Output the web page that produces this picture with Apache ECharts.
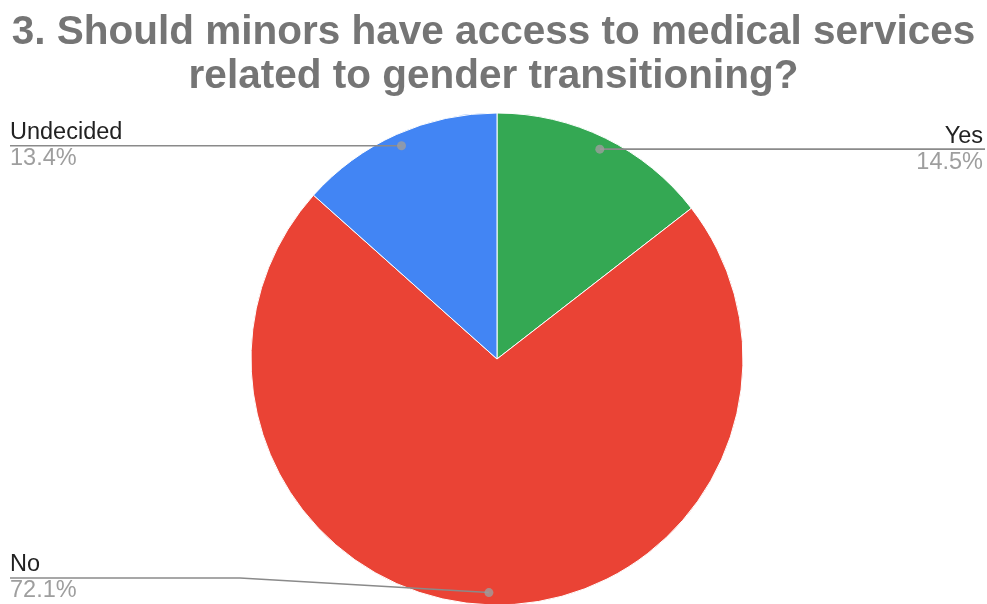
<!DOCTYPE html>
<html><head><meta charset="utf-8">
<script src="https://cdn.jsdelivr.net/npm/echarts@6/dist/echarts.min.js"></script>
<style>html,body{margin:0;padding:0;background:#fff}#c{width:987px;height:604px}</style>
</head><body><div id="c"></div>
<script>
const titleText = '3. Should minors have access to medical services\nrelated to gender transitioning?';
const categories = ['Yes', 'No', 'Undecided'];
const values = [14.5, 72.1, 13.4];
const colors = ['#34a853', '#ea4335', '#4285f4'];

const CX = 497, CY = 359, R = 246, DOT_R = 0.95;
const total = values.reduce((a, b) => a + b, 0);
let cum = 0;
const dotData = values.map(v => { const mid = cum + v / 2; cum += v; return [DOT_R, mid]; });

const chart = echarts.init(document.getElementById('c'), null, {renderer: 'canvas'});
chart.setOption({
  animation: false,
  backgroundColor: '#fff',
  title: {
    text: titleText, left: 'center', top: 6,
    textStyle: {fontFamily: 'Liberation Sans', fontWeight: 'bold', fontSize: 40.5, color: '#757575', lineHeight: 44}
  },
  polar: {center: [CX, CY], radius: R},
  angleAxis: {type: 'value', min: 0, max: total, startAngle: 90, clockwise: true, show: false},
  radiusAxis: {type: 'value', min: 0, max: 1, show: false},
  series: [
    {
      type: 'pie', center: [CX, CY], radius: R, startAngle: 90, clockwise: true,
      silent: true, label: {show: false}, labelLine: {show: false},
      itemStyle: {borderColor: '#fff', borderWidth: 1},
      data: categories.map((c, i) => ({name: c, value: values[i], itemStyle: {color: colors[i]}}))
    },
    {
      type: 'pie', center: [CX, CY], radius: R * DOT_R, startAngle: 90, clockwise: true,
      silent: true, avoidLabelOverlap: false, z: 5,
      itemStyle: {color: 'rgba(0,0,0,0)'},
      label: {
        show: true, position: 'outside',
        formatter: p => '{n|' + p.name + '}\n{p|' + p.value.toFixed(1) + '%}',
        rich: {
          n: {fontFamily: 'Liberation Sans', fontSize: 23.5, color: '#222222', lineHeight: 26},
          p: {fontFamily: 'Liberation Sans', fontSize: 23.5, color: '#9e9e9e', lineHeight: 26}
        }
      },
      labelLine: {show: true, length: 0, length2: 10, lineStyle: {color: '#8a8a8a', width: 1.6}},
      labelLayout: function (params) {
        const pts = params.labelLinePoints;
        if (!pts) return {};
        const p0 = pts[0];
        const left = p0[0] < CX;
        const y = Math.min(p0[1], 578);
        const far = left ? 10 : 985;
        const knee = y === p0[1] ? [(p0[0] + far) / 2, y] : [far + (p0[0] - far) * 0.48, y];
        return {
          x: left ? 10 : 983, y: y, align: left ? 'left' : 'right', verticalAlign: 'middle',
          labelLinePoints: [p0, knee, [far, y]]
        };
      },
      data: categories.map((c, i) => ({name: c, value: values[i]}))
    },
    {
      type: 'scatter', coordinateSystem: 'polar', symbolSize: 9, silent: true, z: 6,
      itemStyle: {color: '#9e9e9e'},
      data: dotData
    }
  ]
});
</script></body></html>
